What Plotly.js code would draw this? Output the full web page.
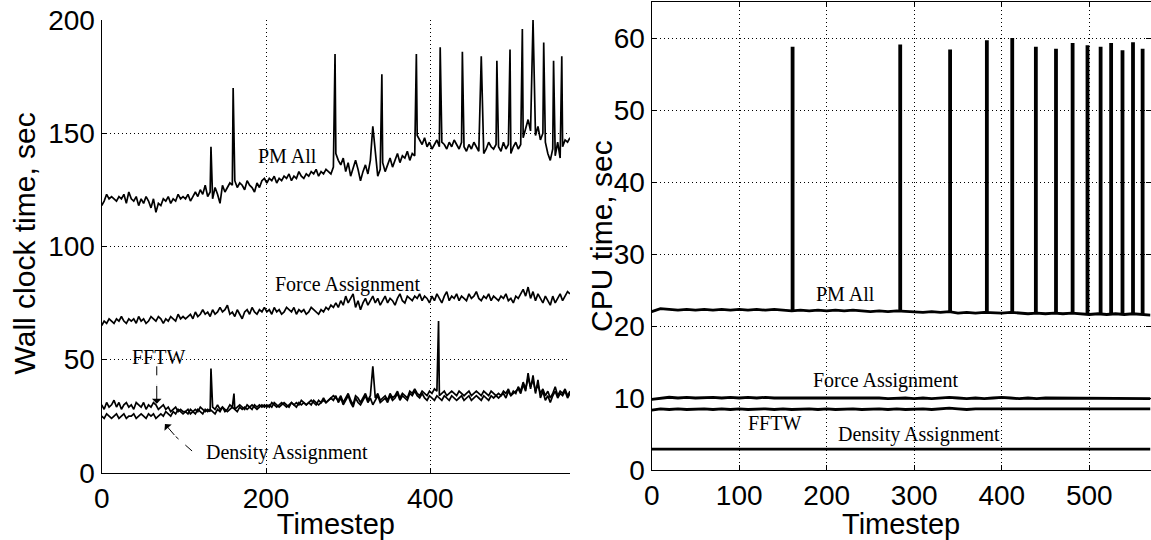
<!DOCTYPE html>
<html><head><meta charset="utf-8">
<script src="https://cdn.plot.ly/plotly-3.0.1.min.js"></script>
<style>html,body{margin:0;padding:0;background:#fff}#chart{width:1151px;height:540px}</style>
</head><body><div id="chart"></div>
<script>
// ---------- Left panel: wall clock time (sampled every 3 timesteps, 0..570) ----------
const WALL_STEP = 3;
const wallPM = [
118,120,123,121,122,121,120,122,121,123,119,124,121,120,122,118,121,119,122,120,117,121,115,119,118,121,120,122,119,121,120,123,121,122,
121,123,120,122,124,122,125,123,127,122,124,121,126,123,119,127,124,126,128,127,129,126,128,127,125,129,127,126,124,128,126,129,130,
128,130,129,131,128,130,129,131,130,132,129,131,130,133,131,130,132,131,133,132,134,131,133,132,134,133,132,135,
141,138,136,139,133,137,131,135,138,134,129,133,136,132,138,135,140,131,134,137,133,136,139,135,138,141,137,140,139,142,138,141,140,
149,147,145,148,144,146,143,145,147,144,146,145,143,146,144,147,145,143,146,144,142,145,143,146,144,142,145,141,143,146,144,143,145,
144,142,146,143,145,141,144,146,143,145,148,152,156,151,158,149,153,147,150,146,141,138,143,140,146,139,144,147,146,148];
const wallPMSpikeX = [133,160,284,330,341,383,412,439,462,481,497,512,525,538,550,560];
const wallPMSpikeY = [144,170,185,153,176,185,188,186,184,182,187,196,200,190,182,184];

const wallForce = [
65,67,66,68,67,66,68,67,69,67,66,68,67,68,66,69,67,68,66,67,69,68,67,69,68,66,68,67,69,68,67,70,68,69,
68,69,70,68,71,69,70,72,70,71,69,72,70,71,73,71,72,74,70,71,69,72,70,68,71,72,70,73,71,70,72,71,73,
71,72,70,73,71,72,70,71,73,72,71,73,70,72,71,72,70,71,73,72,71,70,72,71,73,72,74,73,
75,73,76,74,78,75,77,79,73,76,72,75,77,74,76,78,75,77,74,76,78,75,77,76,74,77,79,76,75,78,77,76,78,
77,79,76,78,77,75,78,76,79,77,75,78,80,76,78,77,79,76,78,77,76,79,77,78,80,77,76,78,77,79,76,78,77,
76,78,77,79,76,77,75,78,77,79,81,78,82,77,80,76,79,77,75,78,76,74,78,75,77,79,76,78,80,79];

const wallFFTW = [
30,28,31,29,30,32,29,31,28,30,31,29,30,28,31,30,29,31,28,30,29,31,30,28,29,30,28,29,27,28,29,27,28,27,
27,28,26,27,28,27,29,28,27,28,27,29,28,30,28,29,27,28,30,29,28,29,30,29,28,30,29,28,30,29,30,29,30,
29,30,29,31,30,29,30,31,30,29,31,30,31,30,32,31,30,31,32,31,30,32,31,33,31,32,33,34,
33,32,34,31,33,35,32,30,34,33,31,33,35,32,34,31,33,35,32,33,34,32,35,33,34,36,33,35,34,33,36,35,37,
35,34,36,35,34,36,35,37,36,34,35,36,34,35,36,35,34,36,35,34,35,36,34,35,36,35,34,36,35,34,36,35,34,
35,34,36,35,37,34,36,35,38,36,40,37,42,38,41,36,39,35,37,34,36,33,35,38,34,36,35,37,34,36];
const wallFFTWSpikeX = [133,161,330,410];
const wallFFTWSpikeY = [46,35,47,67];

const wallDensity = [
25,24,26,25,24,25,26,24,25,26,24,25,25,26,24,25,26,25,24,26,25,26,24,25,26,25,27,26,25,27,26,28,27,26,
27,26,28,27,26,28,27,26,28,27,28,27,26,28,27,29,28,27,28,29,28,27,29,28,29,28,29,30,29,28,29,30,29,
30,29,31,30,29,30,31,30,29,30,31,30,29,31,30,31,30,31,30,32,31,30,31,32,31,32,33,32,
34,31,33,30,32,34,31,29,33,31,30,32,34,31,33,30,32,34,31,32,33,31,34,32,33,35,32,34,33,32,35,34,36,
34,33,35,33,32,34,33,32,34,33,32,34,33,32,34,33,32,33,34,32,33,34,32,33,34,33,32,34,33,32,34,33,34,
33,34,35,33,36,34,35,36,37,35,39,36,44,37,43,35,41,33,36,32,34,31,34,36,33,35,34,36,33,35];

// ---------- Right panel: CPU time (sampled every 10 timesteps, 0..570) ----------
const CPU_STEP = 10;
const cpuPM = [
22.0,22.4,22.3,22.2,22.3,22.2,22.3,22.2,22.3,22.2,
22.3,22.2,22.3,22.2,22.3,22.2,22.1,22.2,22.1,22.2,
22.1,22.2,22.1,22.2,22.1,22.0,22.1,22.0,22.1,22.0,
22.0,21.9,22.0,21.9,22.0,21.8,21.9,21.8,21.9,21.8,
21.8,21.9,21.8,21.7,21.8,21.7,21.8,21.7,21.8,21.7,
21.6,21.7,21.6,21.7,21.6,21.7,21.6,21.5];
const cpuSpikeX    = [161,284,341,383,412,439,462,481,498,513,525,538,550,561];
const cpuSpikeTop  = [58.8,59.1,58.4,59.7,60.0,58.8,58.5,59.3,59.0,58.8,59.3,58.3,59.4,58.5];
const cpuSpikeFoot = [22.1,22.0,22.0,21.8,21.8,21.8,21.8,21.7,21.7,21.7,21.7,21.6,21.7,21.6];
const cpuForce = [
9.8,10.0,10.1,10.0,10.1,10.0,10.1,10.1,10.0,10.1,
10.0,10.1,10.0,10.1,10.0,10.0,10.1,10.0,10.1,10.0,
10.0,10.1,10.0,10.0,10.1,10.0,10.0,9.9,10.0,10.0,
9.9,10.0,9.9,10.0,10.1,10.0,9.9,10.0,9.9,10.0,
10.1,10.0,9.9,10.0,9.9,10.0,10.0,9.9,10.0,9.9,
10.0,9.9,10.0,9.9,9.9,10.0,9.9,9.9];
const cpuFFTW = [
8.3,8.5,8.4,8.5,8.4,8.5,8.5,8.4,8.5,8.4,
8.5,8.4,8.5,8.5,8.4,8.5,8.4,8.5,8.5,8.4,
8.5,8.4,8.5,8.5,8.4,8.5,8.5,8.4,8.5,8.4,
8.5,8.5,8.4,8.5,8.6,8.5,8.4,8.5,8.5,8.4,
8.5,8.4,8.5,8.5,8.4,8.5,8.4,8.5,8.5,8.4,
8.5,8.4,8.5,8.4,8.5,8.5,8.4,8.5];
const cpuDensity = [
2.9,2.9,2.9,2.8,2.9,2.9,2.8,2.9,2.9,2.9,
2.9,2.8,2.9,2.9,2.9,2.8,2.9,2.9,2.9,2.8,
2.9,2.9,2.8,2.9,2.9,2.9,2.8,2.9,2.9,2.9,
2.8,2.9,2.9,2.9,2.8,2.9,2.9,2.9,2.8,2.9,
2.9,2.9,2.8,2.9,2.9,2.8,2.9,2.9,2.9,2.8,
2.9,2.9,2.8,2.9,2.9,2.8,2.9,2.9];

// ---------- Labels ----------
const labelsText = ['PM All','Force Assignment','FFTW','Density Assignment'];
const wallLabelX = [226, 299, 69, 225];
const wallLabelY = [140, 83, 51, 9];
const cpuLabelX  = [222, 267, 140, 306];
const cpuLabelY  = [24.5, 12.5, 6.5, 4.9];
const yTitles = ['Wall clock time, sec', 'CPU time, sec'];
const xTitle = 'Timestep';

// ---------- helpers ----------
function timesteps(n, step){ const a=[]; for(let i=0;i<n;i++) a.push(i*step); return a; }
function merge(xs, ys, sx, sy){
  const m = new Map();
  xs.forEach((x,i)=>m.set(x, ys[i]));
  sx.forEach((x,i)=>m.set(x, sy[i]));
  const k = [...m.keys()].sort((a,b)=>a-b);
  return {x:k, y:k.map(v=>m.get(v))};
}
const wx = timesteps(wallPM.length, WALL_STEP);
const cx = timesteps(cpuPM.length, CPU_STEP);

const pmW = merge(wx, wallPM, wallPMSpikeX, wallPMSpikeY);
const ffW = merge(wx, wallFFTW, wallFFTWSpikeX, wallFFTWSpikeY);

const spikeXs = [], spikeYs = [];
cpuSpikeX.forEach((x,i)=>{ spikeXs.push(x,x,null); spikeYs.push(cpuSpikeFoot[i], cpuSpikeTop[i], null); });

const LW = 1.7, RW = 2.8;
const black = '#000';
const traces = [
  {x:pmW.x, y:pmW.y, xaxis:'x', yaxis:'y', mode:'lines', line:{color:black,width:LW}, name:'PM All'},
  {x:wx, y:wallForce, xaxis:'x', yaxis:'y', mode:'lines', line:{color:black,width:LW}, name:'Force Assignment'},
  {x:ffW.x, y:ffW.y, xaxis:'x', yaxis:'y', mode:'lines', line:{color:black,width:LW}, name:'FFTW'},
  {x:wx, y:wallDensity, xaxis:'x', yaxis:'y', mode:'lines', line:{color:black,width:LW}, name:'Density Assignment'},
  {x:cx, y:cpuPM, xaxis:'x2', yaxis:'y2', mode:'lines', line:{color:black,width:RW}, name:'PM All'},
  {x:spikeXs, y:spikeYs, xaxis:'x2', yaxis:'y2', mode:'lines', line:{color:black,width:3.8}, connectgaps:false, name:'PM All spikes'},
  {x:cx, y:cpuForce, xaxis:'x2', yaxis:'y2', mode:'lines', line:{color:black,width:RW}, name:'Force Assignment'},
  {x:cx, y:cpuFFTW, xaxis:'x2', yaxis:'y2', mode:'lines', line:{color:black,width:RW}, name:'FFTW'},
  {x:cx, y:cpuDensity, xaxis:'x2', yaxis:'y2', mode:'lines', line:{color:black,width:RW}, name:'Density Assignment'}
];

const W = 1151, H = 540;
const sans = 'Liberation Sans, Arial, Helvetica, sans-serif';
const serif = 'Liberation Serif, Times New Roman, serif';
const tickFont = {family:sans, size:28, color:black};
const xTitleFont = {family:sans, size:29, color:black};
const yTitleFont = {family:sans, size:30, color:black};
const common = {
  showline:true, linecolor:black, linewidth:1.2, ticks:'inside', ticklen:5, tickcolor:black, tickwidth:1,
  showgrid:true, gridcolor:black, griddash:'1px,3px', gridwidth:1, zeroline:false, automargin:false,
  tickfont:tickFont, fixedrange:true
};

const annotations = [];
labelsText.forEach((t,i)=>{
  annotations.push({xref:'x', yref:'y', x:wallLabelX[i], y:wallLabelY[i], text:t, showarrow:false,
    font:{family:serif, size:20, color:black}});
  annotations.push({xref:'x2', yref:'y2', x:cpuLabelX[i], y:cpuLabelY[i], text:t, showarrow:false,
    font:{family:serif, size:20, color:black}});
});
// y-axis titles
annotations.push({xref:'paper', yref:'paper', x:23.5/W, y:1-244/H, xanchor:'center', yanchor:'middle',
  text:yTitles[0], textangle:-90, showarrow:false, font:yTitleFont});
annotations.push({xref:'paper', yref:'paper', x:601/W, y:1-236/H, xanchor:'center', yanchor:'middle',
  text:yTitles[1], textangle:-90, showarrow:false, font:yTitleFont});
// arrows in left panel (FFTW, Density Assignment)
annotations.push({xref:'x', yref:'y', axref:'x', ayref:'y', x:67, y:30.5, ax:67, ay:39, text:'', showarrow:true,
  arrowhead:1, arrowsize:1.6, arrowwidth:1, arrowcolor:black});
annotations.push({xref:'x', yref:'y', axref:'x', ayref:'y', x:77, y:21.5, ax:90, ay:16, text:'', showarrow:true,
  arrowhead:1, arrowsize:1.6, arrowwidth:1, arrowcolor:black});

const shapes = [
  {type:'line', xref:'x', yref:'y', x0:67, y0:47, x1:67, y1:39, line:{color:black, width:1, dash:'dash'}},
  {type:'line', xref:'x', yref:'y', x0:110, y0:9.6, x1:90, y1:16, line:{color:black, width:1, dash:'dash'}}
];

const layout = {
  width:W, height:H, margin:{l:0,r:0,t:0,b:0}, paper_bgcolor:'#fff', plot_bgcolor:'#fff',
  showlegend:false,
  xaxis: Object.assign({}, common, {domain:[101.7/W, 570/W], range:[0,570], anchor:'y',
    tickvals:[0,200,400], mirror:false,
    title:{text:xTitle, font:xTitleFont, standoff:0}}),
  yaxis: Object.assign({}, common, {domain:[(H-472.7)/H, (H-20)/H], range:[0,200], anchor:'x',
    tickvals:[0,50,100,150,200], mirror:false}),
  xaxis2: Object.assign({}, common, {domain:[651.7/W, 1150.5/W], range:[0,570], anchor:'y2',
    tickvals:[0,100,200,300,400,500], mirror:'allticks',
    title:{text:xTitle, font:xTitleFont, standoff:0}}),
  yaxis2: Object.assign({}, common, {domain:[(H-470)/H, (H-2)/H], range:[0,65], anchor:'x2',
    tickvals:[0,10,20,30,40,50,60], mirror:'allticks'}),
  annotations: annotations,
  shapes: shapes
};

Plotly.newPlot('chart', traces, layout, {staticPlot:true, displayModeBar:false});
</script>
</body></html>
